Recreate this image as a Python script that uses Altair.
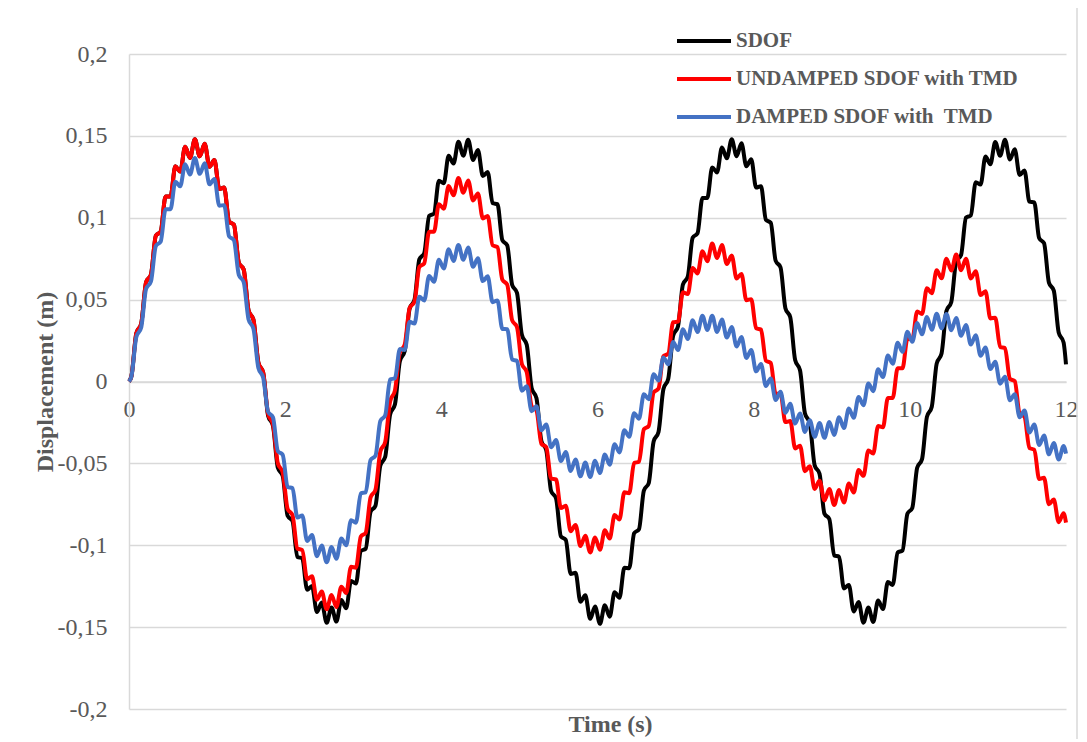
import altair as alt
import pandas as pd

# ---------------- data ----------------
SERIES = ["SDOF", "UNDAMPED SDOF with TMD", "DAMPED SDOF with\u00a0 TMD"]
COLORS = ["#000000", "#ff0000", "#4472c4"]

T_FIRST = 0.0
T_START = 0.03125
T_STEP = 0.0625
N_MID = 192
T_LAST = 12.0
TIME = [T_FIRST] + [round(T_START + T_STEP * k, 5) for k in range(N_MID)] + [T_LAST]

X_TICKS = [0, 2, 4, 6, 8, 10, 12]
Y_TICKS = [-0.2, -0.15, -0.1, -0.05, 0.0, 0.05, 0.1, 0.15, 0.2]

SDOF = [0.0,
    0.0032, 0.0294, 0.0353, 0.0606, 0.0653, 0.0890, 0.0916, 0.1130, 0.1130, 0.1314, 0.1282, 0.1433, 0.1365, 0.1479, 0.1375, 0.1452,
    0.1311, 0.1352, 0.1176, 0.1184, 0.0977, 0.0957, 0.0726, 0.0684, 0.0434, 0.0377, 0.0117, 0.0054, -0.0209, -0.0270, -0.0527, -0.0577,
    -0.0820, -0.0852, -0.1072, -0.1079, -0.1272, -0.1249, -0.1408, -0.1350, -0.1474, -0.1380, -0.1466, -0.1335, -0.1385, -0.1218, -0.1234, -0.1035,
    -0.1021, -0.0796, -0.0759, -0.0513, -0.0460, -0.0201, -0.0139, 0.0124, 0.0186, 0.0445, 0.0499, 0.0746, 0.0784, 0.1011, 0.1025, 0.1226,
    0.1211, 0.1379, 0.1331, 0.1464, 0.1379, 0.1476, 0.1353, 0.1413, 0.1255, 0.1280, 0.1089, 0.1083, 0.0863, 0.0832, 0.0591, 0.0541,
    0.0285, 0.0224, -0.0039, -0.0102, -0.0363, -0.0419, -0.0670, -0.0713, -0.0946, -0.0967, -0.1175, -0.1168, -0.1345, -0.1306, -0.1449, -0.1374,
    -0.1480, -0.1367, -0.1436, -0.1287, -0.1321, -0.1138, -0.1140, -0.0927, -0.0902, -0.0666, -0.0620, -0.0367, -0.0308, -0.0047, 0.0017, 0.0279,
    0.0338, 0.0592, 0.0640, 0.0878, 0.0905, 0.1120, 0.1121, 0.1307, 0.1277, 0.1429, 0.1363, 0.1479, 0.1376, 0.1455, 0.1315, 0.1358,
    0.1184, 0.1193, 0.0988, 0.0969, 0.0738, 0.0697, 0.0448, 0.0392, 0.0131, 0.0069, -0.0194, -0.0255, -0.0512, -0.0564, -0.0807, -0.0840,
    -0.1062, -0.1070, -0.1264, -0.1242, -0.1404, -0.1347, -0.1473, -0.1380, -0.1468, -0.1338, -0.1390, -0.1224, -0.1242, -0.1045, -0.1032, -0.0808,
    -0.0772, -0.0527, -0.0474, -0.0216, -0.0154, 0.0109, 0.0171, 0.0431, 0.0486, 0.0733, 0.0772, 0.1000, 0.1015, 0.1217, 0.1203, 0.1374,
    0.1327, 0.1462, 0.1379, 0.1477, 0.1356, 0.1418, 0.1261, 0.1288, 0.1098, 0.1093, 0.0875, 0.0845, 0.0604, 0.0555, 0.0299, 0.0239,
    0.0105]

UNDAMPED = [0.0,
    0.0032, 0.0294, 0.0353, 0.0606, 0.0653, 0.0890, 0.0916, 0.1130, 0.1130, 0.1314, 0.1282, 0.1433, 0.1365, 0.1479, 0.1375, 0.1452,
    0.1311, 0.1352, 0.1176, 0.1184, 0.0977, 0.0957, 0.0726, 0.0684, 0.0434, 0.0377, 0.0117, 0.0054, -0.0198, -0.0261, -0.0500, -0.0555,
    -0.0778, -0.0815, -0.1020, -0.1030, -0.1207, -0.1190, -0.1333, -0.1282, -0.1391, -0.1304, -0.1378, -0.1253, -0.1291, -0.1132, -0.1137, -0.0947,
    -0.0924, -0.0708, -0.0662, -0.0428, -0.0369, -0.0122, -0.0054, 0.0177, 0.0225, 0.0449, 0.0487, 0.0700, 0.0722, 0.0915, 0.0915, 0.1083,
    0.1055, 0.1194, 0.1137, 0.1243, 0.1153, 0.1227, 0.1106, 0.1148, 0.0996, 0.1011, 0.0832, 0.0821, 0.0622, 0.0592, 0.0375, 0.0333,
    0.0107, 0.0057, -0.0151, -0.0178, -0.0380, -0.0401, -0.0593, -0.0598, -0.0773, -0.0759, -0.0914, -0.0876, -0.1005, -0.0942, -0.1044, -0.0952,
    -0.1028, -0.0909, -0.0959, -0.0816, -0.0842, -0.0677, -0.0682, -0.0498, -0.0490, -0.0292, -0.0272, -0.0066, -0.0044, 0.0155, 0.0169, 0.0362,
    0.0366, 0.0545, 0.0534, 0.0693, 0.0660, 0.0795, 0.0735, 0.0842, 0.0754, 0.0833, 0.0718, 0.0770, 0.0629, 0.0657, 0.0496, 0.0503,
    0.0325, 0.0317, 0.0128, 0.0113, -0.0075, -0.0073, -0.0248, -0.0241, -0.0409, -0.0392, -0.0548, -0.0517, -0.0656, -0.0606, -0.0726, -0.0656,
    -0.0754, -0.0662, -0.0739, -0.0623, -0.0678, -0.0541, -0.0576, -0.0421, -0.0440, -0.0271, -0.0279, -0.0100, -0.0100, 0.0081, 0.0081, 0.0261,
    0.0256, 0.0428, 0.0412, 0.0570, 0.0539, 0.0680, 0.0630, 0.0750, 0.0678, 0.0775, 0.0680, 0.0750, 0.0629, 0.0674, 0.0528, 0.0551,
    0.0385, 0.0390, 0.0211, 0.0204, 0.0017, 0.0002, -0.0196, -0.0215, -0.0407, -0.0416, -0.0596, -0.0588, -0.0750, -0.0721, -0.0859, -0.0804,
    -0.0862]

DAMPED = [0.0,
    0.0031, 0.0272, 0.0330, 0.0565, 0.0611, 0.0828, 0.0855, 0.1052, 0.1052, 0.1220, 0.1192, 0.1327, 0.1264, 0.1365, 0.1268, 0.1333,
    0.1204, 0.1237, 0.1074, 0.1077, 0.0887, 0.0863, 0.0651, 0.0607, 0.0379, 0.0322, 0.0084, 0.0023, -0.0185, -0.0219, -0.0425, -0.0448,
    -0.0644, -0.0651, -0.0830, -0.0818, -0.0974, -0.0938, -0.1067, -0.1002, -0.1104, -0.1011, -0.1083, -0.0959, -0.1000, -0.0847, -0.0862, -0.0683,
    -0.0677, -0.0479, -0.0454, -0.0242, -0.0207, 0.0012, 0.0020, 0.0198, 0.0193, 0.0365, 0.0354, 0.0517, 0.0495, 0.0645, 0.0609, 0.0744,
    0.0690, 0.0808, 0.0736, 0.0834, 0.0743, 0.0818, 0.0701, 0.0753, 0.0613, 0.0642, 0.0484, 0.0495, 0.0321, 0.0319, 0.0134, 0.0126,
    -0.0056, -0.0029, -0.0181, -0.0151, -0.0298, -0.0262, -0.0401, -0.0357, -0.0486, -0.0430, -0.0546, -0.0476, -0.0579, -0.0495, -0.0583, -0.0484,
    -0.0559, -0.0446, -0.0508, -0.0383, -0.0433, -0.0297, -0.0338, -0.0194, -0.0227, -0.0078, -0.0108, 0.0044, 0.0006, 0.0147, 0.0105, 0.0241,
    0.0192, 0.0319, 0.0259, 0.0374, 0.0302, 0.0402, 0.0315, 0.0401, 0.0302, 0.0378, 0.0268, 0.0333, 0.0214, 0.0271, 0.0144, 0.0193,
    0.0062, 0.0107, -0.0027, 0.0019, -0.0113, -0.0063, -0.0191, -0.0136, -0.0257, -0.0195, -0.0308, -0.0236, -0.0338, -0.0254, -0.0344, -0.0248,
    -0.0326, -0.0218, -0.0284, -0.0165, -0.0222, -0.0094, -0.0145, -0.0012, -0.0059, 0.0075, 0.0027, 0.0159, 0.0108, 0.0236, 0.0181, 0.0304,
    0.0242, 0.0358, 0.0288, 0.0394, 0.0316, 0.0413, 0.0325, 0.0412, 0.0313, 0.0388, 0.0279, 0.0345, 0.0226, 0.0283, 0.0157, 0.0207,
    0.0076, 0.0121, -0.0013, 0.0029, -0.0115, -0.0078, -0.0218, -0.0177, -0.0311, -0.0262, -0.0388, -0.0330, -0.0445, -0.0375, -0.0477, -0.0394,
    -0.0440]

rows = []
for name, vals in zip(SERIES, [SDOF, UNDAMPED, DAMPED]):
    assert len(vals) == len(TIME), (name, len(vals), len(TIME))
    for t, v in zip(TIME, vals):
        rows.append({"t": t, "v": v, "series": name})
df = pd.DataFrame(rows)

# ---------------- styling ----------------
FONT = "Liberation Serif, Times New Roman, serif"
TXT = "#595959"
GRID = "#d9d9d9"
W, H = 937, 655

x = alt.X(
    "t:Q",
    scale=alt.Scale(domain=[0, 12], nice=False),
    axis=alt.Axis(
        values=X_TICKS, offset=-H / 2, grid=False, ticks=False,
        domainColor=GRID, domainWidth=1.5,
        labelFont=FONT, labelFontSize=24, labelColor=TXT, labelPadding=16,
        labelFlush=False,
        title="Time (s)", titleFont=FONT, titleFontSize=24, titleFontWeight="bold",
        titleColor=TXT, titleX=481, titleY=343, titleAlign="center",
        titleBaseline="middle",
    ),
)

y = alt.Y(
    "v:Q",
    scale=alt.Scale(domain=[-0.2, 0.2], nice=False),
    axis=alt.Axis(
        values=Y_TICKS, grid=True, gridColor=GRID, gridWidth=1.5, ticks=False,
        domainColor=GRID, domainWidth=1.5,
        labelFont=FONT, labelFontSize=24, labelColor=TXT, labelPadding=22,
        labelExpr="replace(replace(format(datum.value, '.2~f'), '.', ','), '\u2212', '-')",
        title="Displacement (m)", titleFont=FONT, titleFontSize=24,
        titleFontWeight="bold", titleColor=TXT, titleX=-84, titleY=H / 2,
        titleAlign="center", titleBaseline="middle", titleAngle=270,
    ),
)

color = alt.Color(
    "series:N",
    scale=alt.Scale(domain=SERIES, range=COLORS),
    sort=SERIES,
    legend=alt.Legend(
        orient="none", legendX=564, legendY=-24, direction="vertical",
        title=None, symbolType="M-3,0H3", symbolSize=324, symbolStrokeWidth=4,
        labelFont=FONT, labelFontSize=21, labelFontWeight="bold", labelColor=TXT,
        labelOffset=21, rowPadding=17, padding=0, labelLimit=500,
    ),
)

lines = alt.Chart(df).mark_line(strokeWidth=4, interpolate="monotone", strokeJoin="round").encode(
    x=x, y=y, color=color
)

border = alt.Chart(pd.DataFrame({"a": [0]})).mark_rect(
    fill="transparent", stroke=GRID, strokeWidth=1.5
).encode(
    x=alt.value(-122), x2=alt.value(948), y=alt.value(-47), y2=alt.value(745)
)

chart = alt.layer(border, lines).properties(
    width=W, height=H,
    padding={"left": 121, "top": 46, "right": 13, "bottom": 30},
    autosize=alt.AutoSizeParams(type="none"),
    background="white",
).configure_view(stroke="transparent")

chart.save("out.html", embed_options={"renderer": "svg", "actions": False})
